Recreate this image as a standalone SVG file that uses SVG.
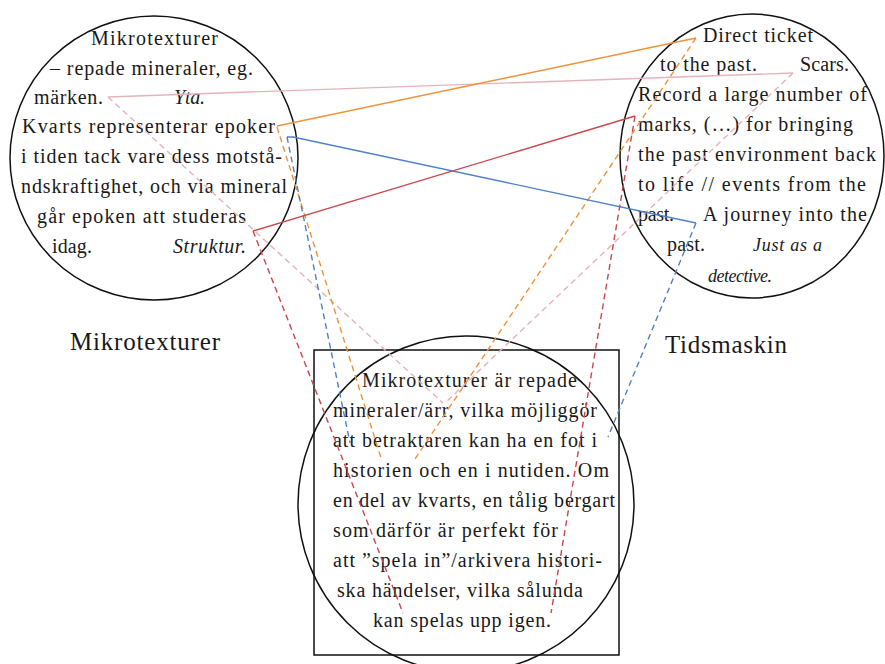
<svg xmlns="http://www.w3.org/2000/svg" width="885" height="664" viewBox="0 0 885 664">
<style>
.shape{fill:none;stroke:#111;stroke-width:1.5}
.t{font-family:"Liberation Serif","Times New Roman",serif;font-size:20px;fill:#1a1a1a}
.it{font-style:italic}
.sm{font-size:18px}
.lbl{font-family:"Liberation Serif","Times New Roman",serif;font-size:25px;fill:#1a1a1a}
.c{fill:none;stroke-width:1.4}
.d{stroke-dasharray:6 4}
.pink{stroke:#e6b3b8}
.orange{stroke:#f0923a}
.blue{stroke:#4f80c9}
.red{stroke:#c9474d}
</style>
<rect width="885" height="664" fill="#fff"/>
<g id="node-left">
<ellipse class="shape" cx="154" cy="158" rx="144" ry="142"/>
<text class="t" x="91" y="45" textLength="127" lengthAdjust="spacing">Mikrotexturer</text>
<text class="t" x="50" y="75" textLength="203" lengthAdjust="spacing">– repade mineraler, eg.</text>
<text class="t" x="34" y="104" textLength="69" lengthAdjust="spacing">märken.</text>
<text class="t it" x="174" y="104" textLength="31" lengthAdjust="spacing">Yta.</text>
<text class="t" x="22" y="133" textLength="253" lengthAdjust="spacing">Kvarts representerar epoker</text>
<text class="t" x="21" y="163" textLength="261" lengthAdjust="spacing">i tiden tack vare dess motstå-</text>
<text class="t" x="21" y="193" textLength="266" lengthAdjust="spacing">ndskraftighet, och via mineral</text>
<text class="t" x="37" y="223" textLength="209" lengthAdjust="spacing">går epoken att studeras</text>
<text class="t" x="52" y="253" textLength="40" lengthAdjust="spacing">idag.</text>
<text class="t it" x="173" y="253" textLength="73" lengthAdjust="spacing">Struktur.</text>
</g>
<g id="node-right">
<ellipse class="shape" cx="752" cy="156" rx="132" ry="142"/>
<text class="t" x="703" y="42" textLength="110" lengthAdjust="spacing">Direct ticket</text>
<text class="t" x="660" y="71" textLength="97" lengthAdjust="spacing">to the past.</text>
<text class="t" x="800" y="71" textLength="49" lengthAdjust="spacing">Scars.</text>
<text class="t" x="638" y="101" textLength="229" lengthAdjust="spacing">Record a large number of</text>
<text class="t" x="638" y="131" textLength="215" lengthAdjust="spacing">marks, (…) for bringing</text>
<text class="t" x="638" y="161" textLength="238" lengthAdjust="spacing">the past environment back</text>
<text class="t" x="638" y="191" textLength="228" lengthAdjust="spacing">to life // events from the</text>
<text class="t" x="638" y="221" textLength="36" lengthAdjust="spacing">past.</text>
<text class="t" x="703" y="221" textLength="164" lengthAdjust="spacing">A journey into the</text>
<text class="t" x="667" y="251" textLength="38" lengthAdjust="spacing">past.</text>
<text class="t it sm" x="753" y="251" textLength="69" lengthAdjust="spacing">Just as a</text>
<text class="t it sm" x="708" y="282" textLength="64" lengthAdjust="spacing">detective.</text>
</g>
<g id="node-bottom">
<rect class="shape" x="314" y="350" width="305" height="305"/>
<circle class="shape" cx="466" cy="504" r="168"/>
<text class="t" x="362" y="387" textLength="215" lengthAdjust="spacing">Mikrotexturer är repade</text>
<text class="t" x="333" y="417" textLength="264" lengthAdjust="spacing">mineraler/ärr, vilka möjliggör</text>
<text class="t" x="333" y="447" textLength="264" lengthAdjust="spacing">att betraktaren kan ha en fot i</text>
<text class="t" x="333" y="477" textLength="276" lengthAdjust="spacing">historien och en i nutiden. Om</text>
<text class="t" x="333" y="507" textLength="282" lengthAdjust="spacing">en del av kvarts, en tålig bergart</text>
<text class="t" x="333" y="537" textLength="225" lengthAdjust="spacing">som därför är perfekt för</text>
<text class="t" x="333" y="567" textLength="269" lengthAdjust="spacing">att ”spela in”/arkivera histori-</text>
<text class="t" x="337" y="597" textLength="246" lengthAdjust="spacing">ska händelser, vilka sålunda</text>
<text class="t" x="373" y="627" textLength="178" lengthAdjust="spacing">kan spelas upp igen.</text>
</g>
<g id="label-mikrotexturer">
<text class="lbl" x="70" y="350" textLength="150" lengthAdjust="spacing">Mikrotexturer</text>
</g>
<g id="label-tidsmaskin">
<text class="lbl" x="665" y="353" textLength="122" lengthAdjust="spacing">Tidsmaskin</text>
</g>
<g id="connectors">
<line class="c pink" x1="108" y1="97" x2="793" y2="73"/>
<line class="c d pink" x1="108" y1="97" x2="443" y2="403"/>
<line class="c d pink" x1="793" y1="73" x2="445" y2="403"/>
<line class="c orange" x1="277" y1="126" x2="696" y2="38"/>
<line class="c d orange" x1="277" y1="127" x2="382" y2="461"/>
<line class="c d orange" x1="696" y1="38" x2="413" y2="462"/>
<polyline class="c blue" points="287,137 293,137 696,223"/>
<line class="c d blue" x1="287" y1="137" x2="350" y2="443"/>
<line class="c d blue" x1="696" y1="223" x2="608" y2="437"/>
<line class="c red" x1="253" y1="231" x2="635" y2="116"/>
<line class="c d red" x1="253" y1="231" x2="403" y2="613"/>
<line class="c d red" x1="635" y1="116" x2="551" y2="613"/>
</g>
</svg>
